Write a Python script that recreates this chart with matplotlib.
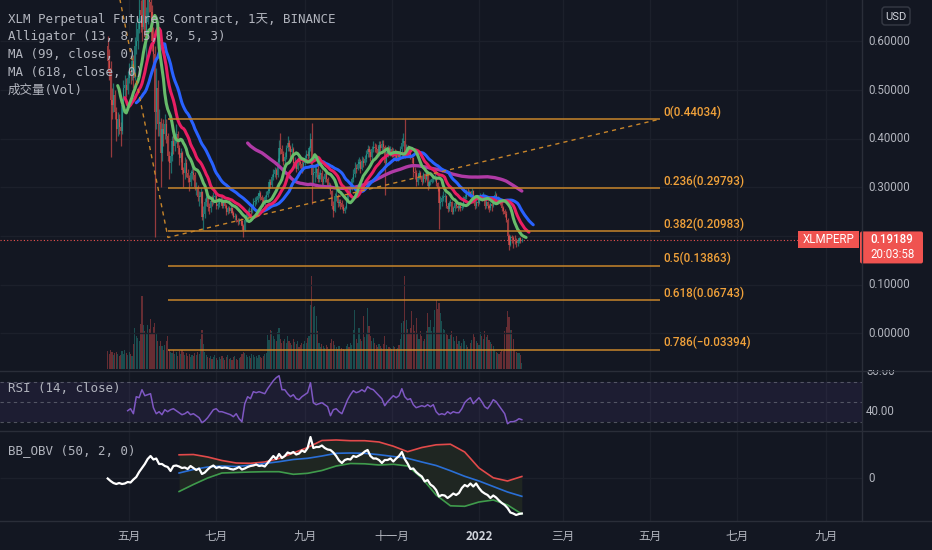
import numpy as np
import pandas as pd
import matplotlib
matplotlib.use("Agg")
import matplotlib.pyplot as plt
from matplotlib.patches import FancyBboxPatch, Rectangle

# ---------------- data (daily) ----------------
start_date = "2021-04-16"
first_open = 0.590
close = [
    0.560, 0.545, 0.480, 0.470, 0.490, 0.455, 0.420, 0.440, 0.425, 0.415,
    0.470, 0.505, 0.510, 0.500, 0.525, 0.540, 0.530, 0.560, 0.525, 0.590,
    0.600, 0.625, 0.665, 0.655, 0.630, 0.700, 0.610, 0.640, 0.720, 0.680,
    0.660, 0.600, 0.575, 0.455, 0.505, 0.430, 0.435, 0.370, 0.420, 0.410,
    0.430, 0.405, 0.365, 0.350, 0.365, 0.395, 0.385, 0.400, 0.410, 0.380,
    0.360, 0.370, 0.335, 0.330, 0.350, 0.330, 0.320, 0.310, 0.330, 0.330,
    0.325, 0.300, 0.300, 0.280, 0.280, 0.290, 0.240, 0.245, 0.270, 0.280,
    0.260, 0.258, 0.272, 0.270, 0.280, 0.282, 0.262, 0.265, 0.272, 0.275,
    0.262, 0.270, 0.262, 0.250, 0.258, 0.252, 0.258, 0.248, 0.240, 0.242,
    0.232, 0.228, 0.232, 0.230, 0.220, 0.212, 0.232, 0.240, 0.250, 0.252,
    0.250, 0.262, 0.270, 0.272, 0.275, 0.282, 0.288, 0.280, 0.275, 0.268,
    0.280, 0.285, 0.292, 0.310, 0.305, 0.322, 0.328, 0.335, 0.325, 0.352,
    0.380, 0.378, 0.368, 0.355, 0.362, 0.380, 0.392, 0.382, 0.372, 0.378,
    0.350, 0.352, 0.338, 0.358, 0.352, 0.348, 0.338, 0.350, 0.360, 0.368,
    0.365, 0.380, 0.400, 0.325, 0.330, 0.330, 0.338, 0.318, 0.325, 0.330,
    0.310, 0.318, 0.328, 0.318, 0.302, 0.305, 0.292, 0.262, 0.252, 0.282,
    0.282, 0.268, 0.270, 0.268, 0.260, 0.252, 0.258, 0.272, 0.290, 0.288,
    0.298, 0.318, 0.328, 0.340, 0.338, 0.348, 0.352, 0.338, 0.355, 0.350,
    0.358, 0.368, 0.378, 0.372, 0.362, 0.378, 0.382, 0.380, 0.378, 0.368,
    0.388, 0.380, 0.390, 0.382, 0.350, 0.368, 0.380, 0.372, 0.378, 0.368,
    0.372, 0.370, 0.360, 0.368, 0.362, 0.378, 0.392, 0.395, 0.372, 0.382,
    0.372, 0.370, 0.362, 0.360, 0.332, 0.330, 0.310, 0.322, 0.330, 0.322,
    0.312, 0.328, 0.318, 0.330, 0.302, 0.310, 0.312, 0.318, 0.318, 0.320,
    0.308, 0.298, 0.268, 0.270, 0.278, 0.280, 0.282, 0.262, 0.255, 0.268,
    0.270, 0.250, 0.258, 0.268, 0.262, 0.258, 0.262, 0.258, 0.260, 0.275,
    0.280, 0.290, 0.288, 0.290, 0.285, 0.292, 0.272, 0.262, 0.270, 0.268,
    0.280, 0.282, 0.278, 0.282, 0.262, 0.270, 0.262, 0.258, 0.265, 0.262,
    0.275, 0.285, 0.272, 0.275, 0.272, 0.270, 0.258, 0.252, 0.245, 0.232,
    0.200, 0.182, 0.198, 0.195, 0.192, 0.190, 0.185, 0.190, 0.195, 0.190,
    0.19189,
]
high = [
    0.612, 0.585, 0.560, 0.505, 0.515, 0.500, 0.465, 0.455, 0.450, 0.435,
    0.478, 0.520, 0.530, 0.525, 0.540, 0.555, 0.552, 0.575, 0.572, 0.610,
    0.640, 0.648, 0.690, 0.685, 0.700, 0.715, 0.712, 0.670, 0.745, 0.735,
    0.730, 0.675, 0.630, 0.590, 0.545, 0.520, 0.462, 0.442, 0.432, 0.440,
    0.450, 0.440, 0.412, 0.375, 0.372, 0.405, 0.408, 0.412, 0.430, 0.415,
    0.388, 0.380, 0.375, 0.342, 0.362, 0.358, 0.338, 0.325, 0.335, 0.345,
    0.340, 0.332, 0.312, 0.305, 0.292, 0.298, 0.292, 0.262, 0.278, 0.292,
    0.285, 0.268, 0.278, 0.285, 0.290, 0.292, 0.285, 0.272, 0.278, 0.282,
    0.280, 0.276, 0.274, 0.265, 0.262, 0.262, 0.264, 0.260, 0.252, 0.248,
    0.246, 0.238, 0.236, 0.236, 0.232, 0.224, 0.236, 0.248, 0.256, 0.260,
    0.258, 0.266, 0.278, 0.280, 0.282, 0.288, 0.295, 0.292, 0.284, 0.280,
    0.285, 0.292, 0.296, 0.318, 0.318, 0.328, 0.338, 0.342, 0.340, 0.360,
    0.398, 0.412, 0.388, 0.375, 0.372, 0.388, 0.405, 0.398, 0.388, 0.392,
    0.382, 0.362, 0.356, 0.362, 0.365, 0.358, 0.355, 0.356, 0.366, 0.376,
    0.375, 0.386, 0.412, 0.433, 0.345, 0.345, 0.348, 0.345, 0.332, 0.338,
    0.335, 0.324, 0.332, 0.332, 0.322, 0.312, 0.308, 0.295, 0.272, 0.288,
    0.296, 0.286, 0.276, 0.276, 0.275, 0.266, 0.262, 0.276, 0.295, 0.298,
    0.302, 0.322, 0.338, 0.352, 0.348, 0.358, 0.362, 0.358, 0.365, 0.362,
    0.366, 0.376, 0.388, 0.385, 0.378, 0.386, 0.395, 0.392, 0.390, 0.385,
    0.396, 0.395, 0.398, 0.398, 0.388, 0.375, 0.388, 0.386, 0.384, 0.382,
    0.380, 0.378, 0.376, 0.372, 0.374, 0.384, 0.402, 0.412, 0.441, 0.390,
    0.388, 0.380, 0.376, 0.368, 0.362, 0.342, 0.335, 0.328, 0.336, 0.334,
    0.326, 0.332, 0.330, 0.336, 0.332, 0.316, 0.318, 0.325, 0.326, 0.330,
    0.324, 0.312, 0.302, 0.282, 0.285, 0.292, 0.288, 0.284, 0.268, 0.272,
    0.276, 0.272, 0.262, 0.272, 0.272, 0.266, 0.266, 0.265, 0.266, 0.282,
    0.286, 0.296, 0.298, 0.295, 0.293, 0.298, 0.295, 0.276, 0.275, 0.276,
    0.284, 0.288, 0.286, 0.290, 0.285, 0.276, 0.272, 0.266, 0.270, 0.268,
    0.280, 0.292, 0.288, 0.282, 0.280, 0.276, 0.272, 0.262, 0.256, 0.252,
    0.236, 0.204, 0.202, 0.202, 0.200, 0.202, 0.196, 0.194, 0.198, 0.198,
    0.196,
]
low = [
    0.538, 0.520, 0.362, 0.440, 0.455, 0.440, 0.395, 0.405, 0.410, 0.385,
    0.410, 0.462, 0.488, 0.485, 0.492, 0.515, 0.512, 0.520, 0.505, 0.520,
    0.575, 0.585, 0.618, 0.620, 0.600, 0.625, 0.590, 0.560, 0.635, 0.660,
    0.620, 0.580, 0.545, 0.197, 0.420, 0.405, 0.405, 0.300, 0.355, 0.385,
    0.400, 0.392, 0.355, 0.318, 0.330, 0.355, 0.368, 0.375, 0.392, 0.368,
    0.345, 0.352, 0.328, 0.300, 0.318, 0.322, 0.312, 0.292, 0.302, 0.318,
    0.315, 0.295, 0.285, 0.272, 0.262, 0.268, 0.232, 0.212, 0.238, 0.262,
    0.252, 0.245, 0.250, 0.262, 0.265, 0.270, 0.255, 0.255, 0.260, 0.266,
    0.258, 0.258, 0.258, 0.244, 0.246, 0.248, 0.248, 0.243, 0.236, 0.232,
    0.228, 0.222, 0.224, 0.225, 0.212, 0.197, 0.210, 0.228, 0.236, 0.245,
    0.244, 0.248, 0.258, 0.262, 0.266, 0.270, 0.278, 0.275, 0.268, 0.262,
    0.264, 0.275, 0.280, 0.288, 0.298, 0.300, 0.315, 0.322, 0.318, 0.322,
    0.348, 0.368, 0.355, 0.345, 0.340, 0.358, 0.375, 0.375, 0.362, 0.368,
    0.345, 0.340, 0.332, 0.335, 0.345, 0.340, 0.330, 0.334, 0.346, 0.355,
    0.358, 0.360, 0.375, 0.265, 0.305, 0.312, 0.322, 0.310, 0.312, 0.318,
    0.302, 0.305, 0.312, 0.312, 0.298, 0.296, 0.286, 0.255, 0.240, 0.250,
    0.272, 0.260, 0.262, 0.255, 0.256, 0.248, 0.248, 0.255, 0.270, 0.282,
    0.284, 0.294, 0.312, 0.322, 0.330, 0.335, 0.340, 0.330, 0.335, 0.342,
    0.345, 0.352, 0.362, 0.362, 0.355, 0.358, 0.372, 0.372, 0.370, 0.362,
    0.365, 0.375, 0.376, 0.375, 0.285, 0.345, 0.362, 0.366, 0.365, 0.362,
    0.362, 0.360, 0.355, 0.355, 0.356, 0.360, 0.372, 0.385, 0.360, 0.362,
    0.366, 0.362, 0.358, 0.350, 0.322, 0.318, 0.302, 0.305, 0.318, 0.318,
    0.305, 0.308, 0.312, 0.316, 0.295, 0.298, 0.304, 0.308, 0.310, 0.314,
    0.302, 0.292, 0.215, 0.255, 0.262, 0.272, 0.270, 0.258, 0.250, 0.252,
    0.262, 0.246, 0.245, 0.252, 0.258, 0.252, 0.255, 0.252, 0.254, 0.258,
    0.270, 0.276, 0.282, 0.282, 0.280, 0.282, 0.268, 0.256, 0.258, 0.262,
    0.266, 0.274, 0.272, 0.274, 0.255, 0.258, 0.255, 0.250, 0.254, 0.252,
    0.260, 0.272, 0.268, 0.268, 0.268, 0.264, 0.252, 0.245, 0.240, 0.228,
    0.192, 0.172, 0.180, 0.185, 0.175, 0.184, 0.178, 0.180, 0.186, 0.186,
    0.188,
]
volume_m = [
    180, 150, 190, 170, 140, 160, 170, 150, 130, 140,
    180, 150, 190, 160, 140, 170, 150, 130,
    250, 410, 330, 310, 280, 450, 730, 440, 380, 360,
    440, 400, 500, 360, 420, 460, 350, 280, 230, 280,
    230, 190, 240, 280, 330,
    190, 170, 160, 190, 150, 170, 130, 180, 150, 190,
    170, 140, 160, 130, 150, 120, 140, 130, 160, 140, 170, 150,
    300, 390, 250, 170, 140,
    120, 110, 130, 100, 120, 140, 110, 90, 120, 100,
    130, 110, 90, 120, 140, 100, 110, 90, 120, 130,
    100, 90, 110, 120, 150, 170, 160, 140, 120, 130,
    110, 150, 140, 120, 130, 110, 140, 120, 110, 130, 150, 160,
    340, 290, 390, 380, 330, 300, 280, 370, 410, 300, 260,
    280, 300, 260, 330, 280, 260, 240, 300, 270, 250, 280, 220, 240, 260, 250, 280, 260, 310, 330,
    640, 930, 620, 630, 530, 380,
    260, 220, 250, 230, 210, 240, 220, 200, 260, 300, 280, 240, 220, 200, 230, 180, 210, 200, 190, 230, 250, 220, 260, 240,
    390, 590, 300, 260, 410, 300, 280, 530, 320, 350, 610, 430, 330, 280, 310, 260, 240, 220,
    250, 230, 210, 250, 330, 240, 200, 220, 210, 200, 230, 220, 200, 210, 240, 300,
    460, 480, 930, 490, 400, 360, 410, 580, 440, 380, 510, 350, 300, 380, 330, 280, 300, 380,
    560, 420, 490, 380, 420, 590, 690, 600, 660, 560, 480, 400, 390, 350, 340, 300, 340, 380,
    320, 280, 330, 250, 280, 230, 260, 300, 280, 240, 220, 200, 260, 290, 360, 320, 280, 260,
    240, 370, 330, 300, 380, 320, 340, 290, 270, 250, 230,
    190, 170, 160, 150, 170, 190, 180, 380, 420, 580, 520, 390, 390, 300, 190, 170, 160, 160, 140, 60,
]

# RSI(14) read every 2 days from day 14
rsi_first_day, rsi_every = 14, 2
rsi_values = [
    41, 43, 38, 55, 54, 62, 56, 57, 58, 44,
    38, 40, 37, 42, 40, 42, 43, 41, 39, 37,
    38, 40, 37, 38, 36, 34, 29, 31, 34, 38,
    42, 43, 40, 40, 39, 38, 37, 35, 38, 33,
    30, 48, 55, 53, 60, 59, 60, 59, 58, 63,
    67, 71, 74, 76, 62, 62, 58, 55, 57, 53,
    52, 55, 57, 59, 69, 49, 47, 48, 49, 47,
    45, 36, 42, 43, 40, 38, 45, 52, 57, 61,
    59, 60, 62, 60, 65, 63, 62, 59, 56, 53,
    46, 50, 53, 56, 54, 56, 63, 55, 52, 53,
    47, 44, 45, 46, 45, 47, 45, 47, 40, 37,
    38, 37, 40, 38, 40, 39, 39, 43, 49, 52,
    54, 48, 51, 54, 50, 45, 43, 47, 52, 50,
    46, 42, 38, 28, 30, 30, 31, 33, 32,
]
# OBV (relative units) read every 2 days from day 0
obv_every = 2
obv_values = [
    -0.5, -3, -5, -6, -5, -6, -5.5, -4, -4.5, -1.5,
    1, 6, 10, 14, 19, 22, 18.5, 19.5, 14, 14,
    12, 11, 7, 12, 12.5, 11.5, 10, 10.5, 9, 12,
    10, 8, 9.5, 4, 5.5, 8.5, 11, 12.5, 10, 11,
    10, 10.5, 10, 9, 8.5, 9.5, 11, 8.5, 9.5, 11,
    12, 12.5, 13.5, 12, 12.5, 11.5, 15, 18.5, 22, 19,
    24, 20, 22, 25.5, 24.5, 26, 23.5, 24.5, 27.5, 26,
    30, 41, 30, 31, 31, 32.5, 30, 28.5, 28, 25.5,
    22, 17.5, 15, 18, 19, 18.5, 22, 21, 22.5, 24,
    26.5, 28, 22, 19.5, 19.5, 18, 15, 18, 18, 19.5,
    16.5, 19.5, 22, 26, 19, 14.5, 9, 9.5, 6, 3.5,
    1.5, -3.5, -2, -6.5, -8.5, -12, -18.5, -17, -17.5, -20,
    -18, -15.5, -17, -15, -10, -7, -8.5, -5.5, -8.5, -5.5,
    -10, -13.5, -15.5, -17, -20, -17.5, -19.5, -22.5, -25, -27,
    -30, -34.5, -35.5, -37, -36, -35.5,
]
# Bollinger bands on OBV (50, 2), read every 10 days from day 50
bb_first_day, bb_every = 50, 10
bb_upper = [23.2, 23.5, 21, 17.5, 15, 14.7, 16, 19.5, 25, 30.5, 37.5, 38, 37.3,
            37.3, 36, 31.8, 26.3, 30.5, 33.2, 33.8, 26, 10, 0.2, -3, 1.5]
bb_basis = [5, 8.5, 11, 12, 11.5, 12.8, 14.5, 16.3, 18.5, 19.7, 22, 24.7, 25,
            24.7, 23.3, 21.5, 19.7, 16, 12.5, 7.3, 1.7, -3, -8.5, -14, -18.3]
bb_lower = [-13.5, -6.5, 0, 5, 5.5, 6, 6.3, 6.3, 3.7, 4.7, 7.5, 12, 14.5,
            14.2, 13, 13.7, 12, 0, -17, -27.8, -28.3, -24, -22, -27, -36]

fib_levels = ["0", "0.236", "0.382", "0.5", "0.618", "0.786"]
fib_prices = [0.44034, 0.29793, 0.20983, 0.13863, 0.06743, -0.03394]
fib_anchor_day = [0.7, 42.2, 386.8]
fib_anchor_price = [0.80043, 0.19700, 0.44034]

price_ticks = [0.0, 0.1, 0.2, 0.3, 0.4, 0.5, 0.6]
rsi_ticks = [80, 40]
rsi_bands = [70, 50, 30]
obv_ticks = [0]
month_dates = ["2021-05-01", "2021-07-01", "2021-09-01", "2021-11-01", "2022-01-01",
               "2022-03-01", "2022-05-01", "2022-07-01", "2022-09-01"]
month_labels = ["五月", "七月", "九月", "十一月", "2022", "三月", "五月", "七月", "九月"]

symbol = "XLMPERP"
last_price_text = "0.19189"
countdown = "20:03:58"
legend_lines = ["XLM Perpetual Futures Contract, 1天, BINANCE",
                "Alligator (13, 8, 5, 8, 5, 3)",
                "MA (99, close, 0)",
                "MA (618, close, 0)",
                "成交量(Vol)"]
rsi_title = "RSI (14, close)"
obv_title = "BB_OBV (50, 2, 0)"

# ---------------- arrays ----------------
n = min(len(close), len(high), len(low), len(volume_m))
close_a = np.array(close[:n], float)
high_a = np.array(high[:n], float)
low_a = np.array(low[:n], float)
vol_a = np.array(volume_m[:n], float)
open_a = np.r_[first_open, close_a[:-1]]
days = np.arange(n)
up = close_a >= open_a

def smma(src, length):
    out = np.full(len(src), np.nan)
    out[length - 1] = src[:length].mean()
    for i in range(length, len(src)):
        out[i] = (out[i - 1] * (length - 1) + src[i]) / length
    return out

hl2 = (high_a + low_a) / 2
jaw = smma(hl2, 13)
teeth = smma(hl2, 8)
lips = smma(hl2, 5)
ma99 = pd.Series(close_a).rolling(99).mean().to_numpy()

rsi_days = rsi_first_day + rsi_every * np.arange(len(rsi_values))
obv_days = obv_every * np.arange(len(obv_values))
bb_days = bb_first_day + bb_every * np.arange(len(bb_upper))
t0 = pd.Timestamp(start_date)
tick_days = [(pd.Timestamp(t) - t0).days for t in month_dates]

# ---------------- layout ----------------
W, H = 932, 550
BG = "#131722"
GRID = "#1c202b"
TXT = "#b2b5be"
SEP = "#2a2e39"
UPC = "#26a69a"
DNC = "#ef5350"
FIBC = "#c8852a"
FIBT = "#f0a13a"
X0, KX = 107.7, 1.428          # pixel of day 0, pixels per day
SCALE_PX = 862                  # left edge of right price scale

def px2day(x):
    return (x - X0) / KX

XL = (px2day(0), px2day(W))
XR = px2day(SCALE_PX)
P0, KP = 333.3, 486.5           # price axis: pixel of 0, pixels per 1.0

fig = plt.figure(figsize=(W / 100, H / 100), dpi=100, facecolor=BG)

def make_ax(top, bottom, z):
    a = fig.add_axes([0, 1 - bottom / H, 1, (bottom - top) / H], zorder=z)
    a.set_xlim(*XL)
    a.axis("off")
    return a

MAIN_T, MAIN_B, RSI_B, OBV_B = 0, 370, 431, 521
vax = make_ax(MAIN_T, MAIN_B, 1)
ax = make_ax(MAIN_T, MAIN_B, 2)
rax = make_ax(MAIN_B, RSI_B, 2)
oax = make_ax(RSI_B, OBV_B, 2)
ov = fig.add_axes([0, 0, 1, 1], zorder=10)
ov.set_xlim(0, W)
ov.set_ylim(H, 0)
ov.axis("off")

ax.set_ylim((P0 - MAIN_B) / KP, P0 / KP)
vper = vol_a.max() / 93.0
vax.set_ylim(-0.8 * vper, (MAIN_B - 0.8) * vper)
rax.set_ylim(50 - (RSI_B - 401.7), 50 + (401.7 - MAIN_B))
oax.set_ylim(-(OBV_B - 478), 478 - RSI_B)

# grids
for a in (vax, rax, oax):
    for td in tick_days:
        a.axvline(td, color=GRID, lw=1, zorder=0)
ax.hlines(price_ticks, XL[0], XR, color=GRID, lw=1, zorder=0)
oax.hlines(obv_ticks, XL[0], XR, color=GRID, lw=1, zorder=0)

# volume
vcol = np.where(up, UPC, DNC)
vax.bar(days, vol_a, width=0.8, color=vcol, alpha=0.38, lw=0)

# candles
ccol = np.where(up, UPC, DNC)
ax.vlines(days, low_a, high_a, colors=ccol, lw=0.9, alpha=0.6, zorder=2)
body_lo = np.minimum(open_a, close_a)
body_h = np.maximum(np.abs(close_a - open_a), 0.0015)
ax.bar(days, body_h, bottom=body_lo, width=0.8, color=ccol, alpha=0.6, lw=0, zorder=2)

# MA 99 and Alligator
ax.plot(days, ma99, color="#b03aa6", lw=2.4, zorder=3, solid_capstyle="round")
ax.plot(days + 8, jaw, color="#2962ff", lw=2.2, zorder=4, solid_capstyle="round")
ax.plot(days + 5, teeth, color="#e91e63", lw=2.2, zorder=5, solid_capstyle="round")
ax.plot(days + 3, lips, color="#66bb6a", lw=2.2, zorder=6, solid_capstyle="round")

# fib tool
ax.plot(fib_anchor_day, fib_anchor_price, color=FIBC, lw=1, ls=(0, (3, 3)), zorder=7)
ax.hlines(fib_prices, fib_anchor_day[1], fib_anchor_day[2], color=FIBC, lw=1.1, zorder=7)
for lab, p in zip(fib_levels, fib_prices):
    s = f"{lab}({p:.5f})".replace("-", "\u2212")
    ax.text(fib_anchor_day[2] + 3 / KX, p + 7 / KP, s, color=FIBT, fontsize=8.4,
            family="Roboto", fontweight="medium", ha="left", va="center", zorder=8)

# last price line
last = close_a[-1]
ly = P0 - last * KP
ax.hlines(last, XL[0], px2day(798), color=DNC, lw=0.8, ls=(0, (1, 2)), zorder=8)

# right scale labels (those hidden behind the last-price label are skipped)
tr = ax.get_yaxis_transform()
for p in price_ticks:
    yp = P0 - p * KP
    if ly - 14 < yp < ly + 28:
        continue
    ax.text(868 / W, p, f"{p:.5f}", transform=tr, color=TXT, fontsize=8.3,
            family="Roboto", ha="left", va="center", clip_on=True)

# RSI panel
rax.fill_between([XL[0], XR], min(rsi_bands), max(rsi_bands), color="#7e57c2", alpha=0.1, lw=0)
rax.hlines(rsi_bands, XL[0], XR, color="#787b86", lw=0.8, alpha=0.6, linestyles=(0, (3, 3)))
rax.plot(rsi_days, rsi_values, color="#7e57c2", lw=1.1)
rtr = rax.get_yaxis_transform()
for v in rsi_ticks:
    rax.text(866 / W, v, f"{v:.2f}", transform=rtr, color=TXT, fontsize=8.3,
             family="Roboto", ha="left", va="center", clip_on=True)

# OBV panel
oax.fill_between(bb_days, bb_lower, bb_upper, color="#1f2622", lw=0)
oax.plot(bb_days, bb_upper, color="#e24a4a", lw=1.2)
oax.plot(bb_days, bb_basis, color="#2a6fd6", lw=1.2)
oax.plot(bb_days, bb_lower, color="#3f9b4c", lw=1.2)
oax.plot(obv_days, obv_values, color="white", lw=1.6)
otr = oax.get_yaxis_transform()
for v in obv_ticks:
    oax.text(868 / W, v, f"{v}", transform=otr, color=TXT, fontsize=8.3,
             family="Roboto", ha="left", va="center", clip_on=True)

# separators
for y in (MAIN_B + 0.5, RSI_B, OBV_B):
    ov.plot([0, W], [y, y], color=SEP, lw=1)
ov.plot([SCALE_PX, SCALE_PX], [0, OBV_B], color=SEP, lw=1)

# time axis
for td, lab in zip(tick_days, month_labels):
    bold = lab.isdigit()
    ov.text(X0 + KX * td, 536.5, lab, ha="center", va="center", fontsize=8.4,
            family=["Noto Sans CJK SC", "DejaVu Sans"],
            color="#d1d4dc" if bold else TXT, fontweight="bold" if bold else "normal")

# legends
mono = ["DejaVu Sans Mono", "Noto Sans CJK SC"]
for i, s in enumerate(legend_lines):
    ov.text(8, 19 + 17.8 * i, s, ha="left", va="center", fontsize=9, family=mono, color=TXT)
ov.text(8, 389, rsi_title, ha="left", va="center", fontsize=9, family=mono, color=TXT)
ov.text(8, 451, obv_title, ha="left", va="center", fontsize=9, family=mono, color=TXT)

# USD box
ov.add_patch(FancyBboxPatch((882, 7), 28, 18, boxstyle="round,pad=0,rounding_size=3",
                            fc=BG, ec="#363a45", lw=1))
ov.text(896, 16.5, "USD", ha="center", va="center", fontsize=8, family="Roboto", color="#d1d4dc")

# last price labels
ov.add_patch(Rectangle((798, ly - 8.5), 61, 17, fc=DNC, ec="none"))
ov.text(828.5, ly, symbol, ha="center", va="center", fontsize=8.3, family="Roboto", color="white")
ov.add_patch(FancyBboxPatch((860, ly - 8.5), 63, 32, boxstyle="round,pad=0,rounding_size=2",
                            fc=DNC, ec="none"))
ov.text(891.5, ly, last_price_text, ha="center", va="center", fontsize=8.3,
        family="Roboto", color="white", fontweight="medium")
ov.text(892.5, ly + 15, countdown, ha="center", va="center", fontsize=8.3,
        family="Roboto", color="white")

fig.savefig("out.png", dpi=100, facecolor=BG)
